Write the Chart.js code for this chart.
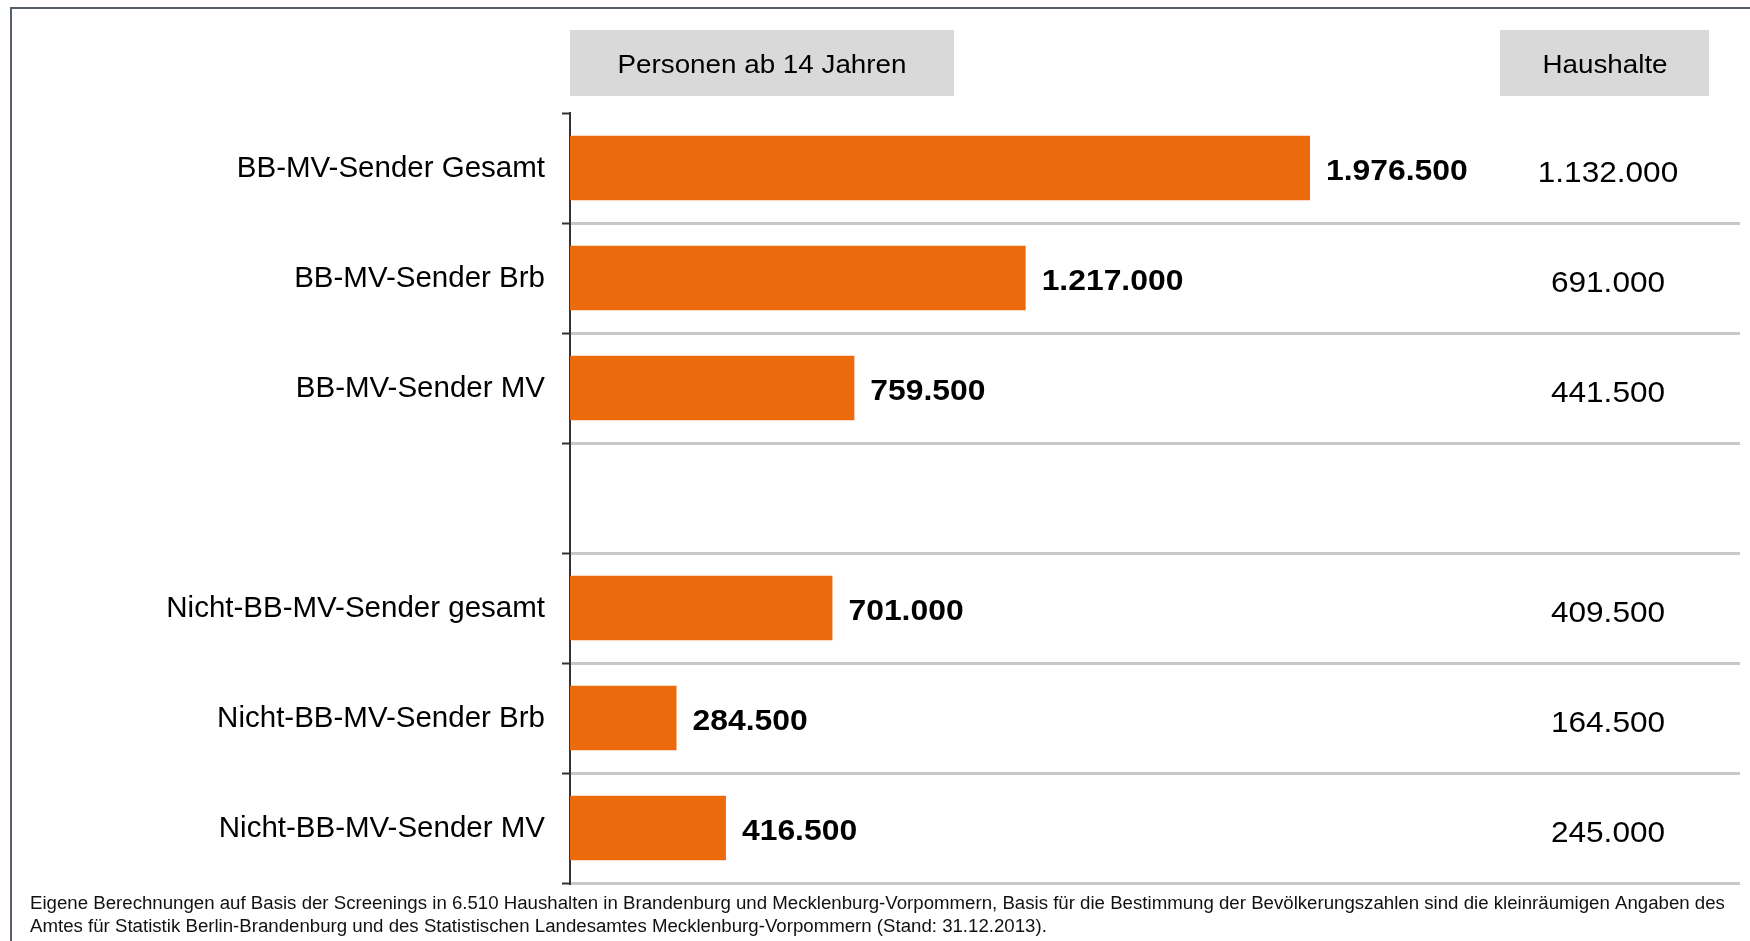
<!DOCTYPE html>
<html>
<head>
<meta charset="utf-8">
<script src="https://cdn.jsdelivr.net/npm/chart.js@4.4.1/dist/chart.umd.min.js"></script>
<style>
  html, body { margin: 0; padding: 0; background: #fff; }
  #wrap { width: 1750px; height: 941px; position: relative; }
</style>
</head>
<body>
<div id="wrap"><canvas id="c" width="1750" height="941"></canvas></div>
<script>
const categories = [
  'BB-MV-Sender Gesamt',
  'BB-MV-Sender Brb',
  'BB-MV-Sender MV',
  '',
  'Nicht-BB-MV-Sender gesamt',
  'Nicht-BB-MV-Sender Brb',
  'Nicht-BB-MV-Sender MV'
];
const personen = [1976500, 1217000, 759500, null, 701000, 284500, 416500];
const haushalte = [1132000, 691000, 441500, null, 409500, 164500, 245000];
const headerPersonen = 'Personen ab 14 Jahren';
const headerHaushalte = 'Haushalte';
const footnoteLines = [
  'Eigene Berechnungen auf Basis der Screenings in 6.510 Haushalten in Brandenburg und Mecklenburg-Vorpommern, Basis für die Bestimmung der Bevölkerungszahlen sind die kleinräumigen Angaben des',
  'Amtes für Statistik Berlin-Brandenburg und des Statistischen Landesamtes Mecklenburg-Vorpommern (Stand: 31.12.2013).'
];

const FONT = '"Liberation Sans", Arial, Helvetica, sans-serif';
function fmt(v) { return String(v).replace(/\B(?=(\d{3})+(?!\d))/g, '.'); }

// draw text with a slight horizontal stretch, as in the reference
function stretchedText(ctx, text, x, y, align, sx) {
  ctx.save();
  ctx.translate(x, y);
  ctx.scale(sx, 1);
  ctx.textAlign = align;
  ctx.fillText(text, 0, 0);
  ctx.restore();
}

const decorPlugin = {
  id: 'decor',
  beforeDraw(chart) {
    const ctx = chart.ctx;
    ctx.save();
    // frame
    ctx.strokeStyle = '#55606a';
    ctx.lineWidth = 2;
    ctx.beginPath();
    ctx.moveTo(11, 941);
    ctx.lineTo(11, 8);
    ctx.lineTo(1750, 8);
    ctx.stroke();
    // header boxes
    ctx.fillStyle = '#d9d9d9';
    ctx.fillRect(570, 30, 384, 66);
    ctx.fillRect(1500, 30, 209, 66);
    ctx.fillStyle = '#000';
    ctx.font = '25.5px ' + FONT;
    ctx.textBaseline = 'middle';
    stretchedText(ctx, headerPersonen, 762, 66, 'center', 1.09);
    stretchedText(ctx, headerHaushalte, 1605, 66, 'center', 1.09);
    // footnote
    ctx.font = '18px ' + FONT;
    ctx.textBaseline = 'alphabetic';
    ctx.fillStyle = '#111';
    stretchedText(ctx, footnoteLines[0], 30, 909, 'left', 1.036);
    stretchedText(ctx, footnoteLines[1], 30, 932, 'left', 1.036);
    ctx.restore();
  },
  afterDatasetsDraw(chart) {
    const ctx = chart.ctx;
    const meta = chart.getDatasetMeta(0);
    const yScale = chart.scales.y;
    ctx.save();
    ctx.fillStyle = '#000';
    ctx.textBaseline = 'middle';
    meta.data.forEach((bar, i) => {
      const v = personen[i];
      if (v == null) return;
      ctx.font = 'bold 29.5px ' + FONT;
      stretchedText(ctx, fmt(v), bar.x + 16, bar.y + 4, 'left', 1.08);
    });
    haushalte.forEach((h, i) => {
      if (h == null) return;
      const y = yScale.getPixelForValue(i);
      ctx.font = '29.5px ' + FONT;
      stretchedText(ctx, fmt(h), 1608, y + 6, 'center', 1.07);
    });
    ctx.restore();
  }
};

new Chart(document.getElementById('c'), {
  type: 'bar',
  data: {
    labels: categories,
    datasets: [{
      data: personen,
      backgroundColor: '#eb6b0c',
      borderWidth: 0,
      barPercentage: 0.585,
      categoryPercentage: 1.0
    }]
  },
  options: {
    indexAxis: 'y',
    responsive: false,
    animation: false,
    devicePixelRatio: 1,
    layout: { padding: { top: 113, bottom: 58, left: 0, right: 10 } },
    plugins: { legend: { display: false }, tooltip: { enabled: false } },
    scales: {
      x: {
        display: false,
        min: 0,
        max: 3125000
      },
      y: {
        afterFit(scale) { scale.width = 570; },
        offset: true,
        border: { display: true, color: '#333333', width: 2 },
        grid: {
          offset: true,
          drawTicks: true,
          tickLength: 8,
          tickWidth: 2,
          tickColor: '#333333',
          lineWidth: 3,
          color: (ctx) => (ctx.index === 0 ? 'rgba(0,0,0,0)' : '#c8c8c8')
        },
        ticks: {
          color: '#000',
          padding: 17,
          labelOffset: 1,
          font: { size: 29.5, family: FONT }
        }
      }
    }
  },
  plugins: [decorPlugin]
});
</script>
</body>
</html>
